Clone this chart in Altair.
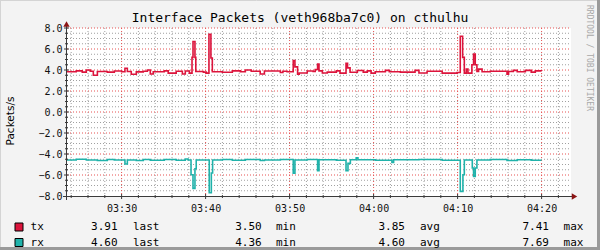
import altair as alt
import pandas as pd

DAY = "2024-01-01T"

# ---- series data, step-after change points ----
tx_times = ["03:23:30", "03:24:36", "03:25:19", "03:25:48", "03:26:16", "03:26:38", "03:27:07",
            "03:28:18", "03:29:08", "03:30:00", "03:30:24", "03:30:41", "03:31:09", "03:31:45",
            "03:32:35", "03:33:04", "03:33:25", "03:33:46", "03:35:05", "03:35:33", "03:36:30",
            "03:37:14", "03:37:35", "03:38:04", "03:38:23", "03:38:30", "03:38:44", "03:38:50",
            "03:39:44", "03:40:05", "03:40:24", "03:40:38", "03:40:48", "03:42:00", "03:43:11",
            "03:44:08", "03:44:44", "03:45:26", "03:46:30", "03:47:00", "03:48:54", "03:49:12",
            "03:49:42", "03:50:26", "03:50:38", "03:50:57", "03:51:09", "03:52:06", "03:52:48",
            "03:53:03", "03:53:20", "03:53:30", "03:53:54", "03:54:29", "03:55:34", "03:56:00",
            "03:56:43", "03:56:54", "03:57:12", "03:58:04", "03:58:46", "03:59:15", "03:59:42",
            "04:00:12", "04:01:24", "04:01:52", "04:03:11", "04:04:56", "04:05:24", "04:06:22",
            "04:08:10", "04:09:56", "04:10:19", "04:10:36", "04:10:48", "04:11:02", "04:11:14",
            "04:11:42", "04:11:54", "04:12:06", "04:12:18", "04:12:30", "04:12:55", "04:13:53",
            "04:15:53", "04:16:04", "04:16:38", "04:17:06", "04:18:04", "04:18:46", "04:19:15",
            "04:20:00"]
tx_values = [3.84, 3.92, 3.80, 4.00, 3.88, 3.50, 3.86,
             3.80, 3.90, 3.84, 4.17, 3.86, 3.60, 3.82,
             3.88, 4.00, 3.62, 3.84, 3.92, 3.70, 3.88,
             3.62, 3.90, 3.70, 5.20, 6.72, 5.20, 3.86,
             3.80, 3.70, 7.41, 5.14, 3.84, 3.78, 3.92,
             3.84, 4.00, 3.88, 3.62, 3.90, 3.76, 3.88,
             3.84, 4.89, 4.30, 3.60, 3.72, 3.90, 3.86,
             4.05, 4.57, 3.92, 3.72, 3.80, 3.92, 3.70,
             4.63, 4.20, 3.78, 3.95, 3.80, 3.92, 3.70,
             3.84, 3.96, 3.84, 3.80, 3.96, 3.72, 3.88,
             3.70, 3.76, 7.22, 5.20, 3.70, 4.10, 3.70,
             4.50, 5.52, 4.50, 3.86, 4.08, 3.84, 3.88,
             3.60, 3.86, 3.96, 3.84, 3.96, 3.80, 3.92,
             3.91]

rx_times = ["03:23:30", "03:24:36", "03:25:48", "03:27:07", "03:28:18", "03:29:08", "03:30:24",
            "03:30:41", "03:31:45", "03:32:35", "03:33:25", "03:35:05", "03:36:30", "03:37:35",
            "03:37:55", "03:38:16", "03:38:30", "03:38:44", "03:38:53", "03:40:26", "03:40:41",
            "03:40:50", "03:42:00", "03:43:11", "03:44:44", "03:46:30", "03:47:00", "03:48:54",
            "03:50:26", "03:50:38", "03:52:06", "03:53:20", "03:53:30", "03:55:34", "03:56:43",
            "03:56:57", "03:57:14", "03:57:56", "03:58:08", "04:00:12", "04:02:11", "04:02:23",
            "04:05:24", "04:08:10", "04:10:19", "04:10:38", "04:10:48", "04:11:45", "04:11:54",
            "04:12:06", "04:12:18", "04:13:53", "04:15:53", "04:17:06", "04:18:46", "04:20:00"]
rx_values = [-4.57, -4.50, -4.57, -4.62, -4.53, -4.57, -4.95,
             -4.57, -4.62, -4.53, -4.60, -4.52, -4.60, -4.48,
             -4.57, -5.97, -7.27, -5.40, -4.57, -7.69, -5.81,
             -4.57, -4.53, -4.60, -4.52, -4.62, -4.57, -4.53,
             -5.84, -4.57, -4.52, -5.59, -4.55, -4.60, -5.59,
             -4.89, -4.55, -4.36, -4.55, -4.60, -4.80, -4.55,
             -4.52, -4.60, -7.56, -5.97, -4.57, -5.33, -6.13,
             -5.33, -4.57, -4.53, -4.62, -4.55, -4.60, -4.60]

series_names = ["tx", "rx"]
series_colors = ["#DC143C", "#20B2AA"]
stat_last = [3.91, 4.60]
stat_min = [3.50, 4.36]
stat_avg = [3.85, 4.60]
stat_max = [7.41, 7.69]

title_text = "Interface Packets (veth968ba7c0) on cthulhu"
y_title = "Packets/s"
watermark = "RRDTOOL / TOBI OETIKER"

y_major = [-6, -4, -2, 0, 2, 4, 6, 8]
y_minor = [-7.5, -7, -6.5, -5.5, -5, -4.5, -3.5, -3, -2.5, -1.5, -1, -0.5,
           0.5, 1, 1.5, 2.5, 3, 3.5, 4.5, 5, 5.5, 6.5, 7, 7.5]
x_major = ["03:30", "03:40", "03:50", "04:00", "04:10", "04:20"]
x_minor = ["03:24", "03:26", "03:28", "03:32", "03:34", "03:36", "03:38", "03:42",
           "03:44", "03:46", "03:48", "03:52", "03:54", "03:56", "03:58", "04:02",
           "04:04", "04:06", "04:08", "04:12", "04:14", "04:16", "04:18", "04:22"]

# ---- build tables ----
line_df = pd.concat([
    pd.DataFrame({"time": [DAY + t for t in tx_times], "value": tx_values, "series": "tx"}),
    pd.DataFrame({"time": [DAY + t for t in rx_times], "value": rx_values, "series": "rx"}),
])
xmaj_df = pd.DataFrame({"time": [DAY + t + ":00" for t in x_major]})
xmin_df = pd.DataFrame({"time": [DAY + t + ":00" for t in x_minor]})
ymaj_df = pd.DataFrame({"value": y_major})
ymin_df = pd.DataFrame({"value": y_minor})
one = pd.DataFrame({"a": [0]})
leg_df = pd.DataFrame({"name": series_names, "color": series_colors, "last": stat_last,
                       "min": stat_min, "avg": stat_avg, "max": stat_max})


def dt(h, m, s=0):
    return alt.DateTime(year=2024, month=1, date=1, hours=h, minutes=m, seconds=s)


W, H = 504, 168
MONO = "DejaVu Sans Mono"
AXIS_C = "#3a3a3a"
GRID_C = "#a0a0a0"
MGRID_C = "#e65050"

xs = alt.Scale(domain=[dt(3, 23, 30), dt(4, 23, 30)])
ys = alt.Scale(domain=[-8, 8], nice=False, zero=False)

x_axis = alt.Axis(values=[dt(int(t[:2]), int(t[3:])) for t in x_major], format="%H:%M",
                  labelFont=MONO, labelFontSize=10, labelColor="#111", ticks=False,
                  domain=False, grid=False, labelPadding=7, title=None)
y_axis = alt.Axis(values=[-8, -6, -4, -2, 0, 2, 4, 6, 8], format=".1f",
                  labelFont=MONO, labelFontSize=10, labelColor="#111", ticks=False,
                  domain=False, grid=False, labelPadding=5, title=None)


def X():
    return alt.X("time:T", scale=xs, axis=x_axis)


def Y():
    return alt.Y("value:Q", scale=ys, axis=y_axis)


vgrid_minor = alt.Chart(xmin_df).mark_rule(color=GRID_C, strokeDash=[1, 2], strokeWidth=1).encode(
    x=X(), y=alt.value(0), y2=alt.value(H))
hgrid_minor = alt.Chart(ymin_df).mark_rule(color=GRID_C, strokeDash=[1, 2], strokeWidth=1).encode(
    y=Y(), x=alt.value(0), x2=alt.value(W))
vgrid_major = alt.Chart(xmaj_df).mark_rule(color=MGRID_C, strokeDash=[1, 2], strokeWidth=1).encode(
    x=X(), y=alt.value(0), y2=alt.value(H))
hgrid_major = alt.Chart(ymaj_df).mark_rule(color=MGRID_C, strokeDash=[1, 2], strokeWidth=1).encode(
    y=Y(), x=alt.value(0), x2=alt.value(W))

lines = alt.Chart(line_df).mark_line(interpolate="step-after", strokeWidth=1.6).encode(
    x=X(), y=Y(),
    color=alt.Color("series:N", scale=alt.Scale(domain=series_names, range=series_colors), legend=None),
)

x_line = alt.Chart(one).mark_rule(color=AXIS_C, strokeWidth=1).encode(
    x=alt.value(-4), x2=alt.value(506), y=alt.value(H + 0.5))
y_line = alt.Chart(one).mark_rule(color=AXIS_C, strokeWidth=1).encode(
    y=alt.value(-3), y2=alt.value(H + 4), x=alt.value(-0.5))
xt_major = alt.Chart(xmaj_df).mark_rule(color=AXIS_C, strokeWidth=1).encode(
    x=X(), y=alt.value(H - 2), y2=alt.value(H + 3))
xt_minor = alt.Chart(xmin_df).mark_rule(color=AXIS_C, strokeWidth=1).encode(
    x=X(), y=alt.value(H - 1), y2=alt.value(H + 2))
yt_major = alt.Chart(ymaj_df).mark_rule(color=AXIS_C, strokeWidth=1).encode(
    y=Y(), x=alt.value(-3), x2=alt.value(2))
yt_minor = alt.Chart(ymin_df).mark_rule(color=AXIS_C, strokeWidth=1).encode(
    y=Y(), x=alt.value(-2), x2=alt.value(1))

arrow_x = alt.Chart(one).mark_point(shape="triangle-right", filled=True, size=40,
                                    color="#8b1414", opacity=1).encode(
    x=alt.value(507.5), y=alt.value(H + 0.5))
arrow_y = alt.Chart(one).mark_point(shape="triangle-up", filled=True, size=40,
                                    color="#8b1414", opacity=1).encode(
    x=alt.value(-0.5), y=alt.value(-4))

title_mark = alt.Chart(one).mark_text(text=title_text, font=MONO, fontSize=13, color="#000",
                                      align="center", baseline="alphabetic").encode(
    x=alt.value(233), y=alt.value(-6))
ytitle_mark = alt.Chart(one).mark_text(text=y_title, font="DejaVu Sans", fontSize=10.5,
                                       color="#000", angle=270, align="center",
                                       baseline="middle").encode(
    x=alt.value(-56), y=alt.value(93))
wm_mark = alt.Chart(one).mark_text(text=watermark, font=MONO, fontSize=8, color="#a8a8a8",
                                   angle=90, align="center", baseline="middle").encode(
    x=alt.value(522), y=alt.value(30))

frame = [
    alt.Chart(one).mark_rule(color="#9a9a9a", strokeWidth=3).encode(
        x=alt.value(531.5), y=alt.value(-28), y2=alt.value(222)),
    alt.Chart(one).mark_rule(color="#9a9a9a", strokeWidth=3).encode(
        y=alt.value(220.5), x=alt.value(-67), x2=alt.value(533)),
    alt.Chart(one).mark_rule(color="#d4d4d4", strokeWidth=1).encode(
        x=alt.value(-66.5), y=alt.value(-28), y2=alt.value(219)),
    alt.Chart(one).mark_rule(color="#d4d4d4", strokeWidth=1).encode(
        y=alt.value(-27.5), x=alt.value(-67), x2=alt.value(530)),
]

legend_layers = []
row_y = {"tx": 199, "rx": 214.5}
for nm in series_names:
    base = alt.Chart(leg_df).transform_filter(alt.datum.name == nm)
    ry = row_y[nm]
    legend_layers.append(base.mark_square(size=64, stroke="black", strokeWidth=1, opacity=1).encode(
        x=alt.value(-48), y=alt.value(ry), fill=alt.Fill("color:N", scale=None)))
    legend_layers.append(base.mark_text(font=MONO, fontSize=11, align="left", color="#000").encode(
        x=alt.value(-36.4), y=alt.value(ry), text="name:N"))
    for field, vx, lx in [("last", 50.6, 66), ("min", 194.7, 209), ("avg", 338, 353), ("max", 482, 496.6)]:
        legend_layers.append(base.mark_text(font=MONO, fontSize=11, align="right", color="#000").encode(
            x=alt.value(vx), y=alt.value(ry), text=alt.Text(f"{field}:Q", format=".2f")))
        legend_layers.append(base.mark_text(text=field, font=MONO, fontSize=11, align="left",
                                            color="#000").encode(
            x=alt.value(lx), y=alt.value(ry)))

chart = alt.layer(
    vgrid_minor, hgrid_minor, vgrid_major, hgrid_major, lines,
    x_line, y_line, xt_major, xt_minor, yt_major, yt_minor, arrow_x, arrow_y,
    title_mark, ytitle_mark, wm_mark, *frame, *legend_layers
).properties(
    width=W, height=H, background="#f3f3f3",
    autosize=alt.AutoSizeParams(type="none"),
    padding={"left": 67, "top": 28, "right": 29, "bottom": 54},
).configure_view(fill="white", stroke=None)

chart.save("out.html", embed_options={"renderer": "svg", "actions": False})
